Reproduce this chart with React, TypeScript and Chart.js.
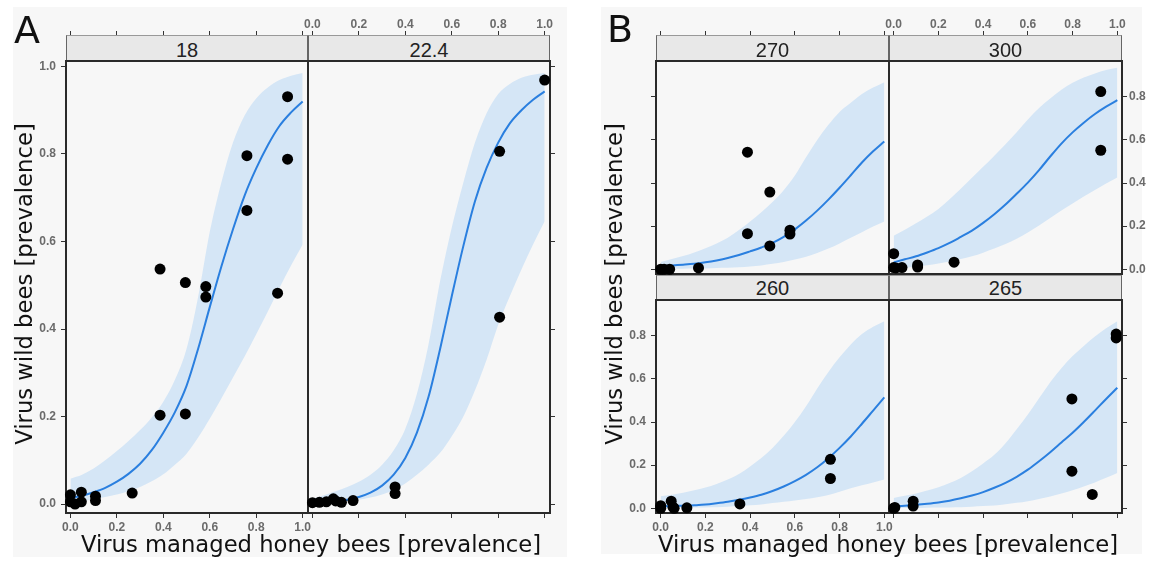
import React, { useEffect, useRef } from "react";
import { Chart, registerables } from "chart.js";

Chart.register(...registerables);

// ---------- data ----------
const GRID = [0, 0.05, 0.1, 0.15, 0.2, 0.25, 0.3, 0.35, 0.4, 0.45, 0.5, 0.55, 0.6, 0.65, 0.7, 0.75, 0.8, 0.85, 0.9, 0.95, 1.0];

const X_TITLE = "Virus managed honey bees [prevalence]";
const Y_TITLE = "Virus wild bees [prevalence]";

// Panel A, facet "18"
const pts18X = [0, 0, 0.02, 0.047, 0.047, 0.108, 0.108, 0.266, 0.386, 0.386, 0.495, 0.495, 0.583, 0.583, 0.76, 0.76, 0.892, 0.935, 0.935];
const pts18Y = [0.021, 0.005, 0.0, 0.027, 0.005, 0.018, 0.008, 0.025, 0.537, 0.203, 0.506, 0.206, 0.497, 0.473, 0.796, 0.671, 0.482, 0.931, 0.788];
const fit18 = [0.014, 0.019, 0.027, 0.037, 0.051, 0.069, 0.092, 0.123, 0.163, 0.21, 0.27, 0.355, 0.45, 0.543, 0.628, 0.705, 0.767, 0.82, 0.864, 0.895, 0.92];
const upper18 = [0.058, 0.067, 0.081, 0.1, 0.121, 0.144, 0.169, 0.198, 0.234, 0.284, 0.355, 0.474, 0.622, 0.735, 0.826, 0.888, 0.927, 0.952, 0.969, 0.979, 0.985];
const lower18 = [0.002, 0.006, 0.011, 0.016, 0.022, 0.029, 0.039, 0.052, 0.068, 0.09, 0.115, 0.152, 0.195, 0.241, 0.289, 0.337, 0.388, 0.44, 0.494, 0.545, 0.593];

// Panel A, facet "22.4"
const pts22X = [0, 0.03, 0.06, 0.09, 0.1, 0.125, 0.175, 0.356, 0.356, 0.806, 0.806, 1.0];
const pts22Y = [0.003, 0.004, 0.005, 0.012, 0.007, 0.004, 0.008, 0.039, 0.024, 0.806, 0.427, 0.969];
const fit22 = [0.003, 0.004, 0.006, 0.01, 0.016, 0.026, 0.042, 0.067, 0.105, 0.163, 0.245, 0.355, 0.475, 0.59, 0.692, 0.768, 0.826, 0.87, 0.9, 0.924, 0.943];
const upper22 = [0.012, 0.02, 0.029, 0.039, 0.051, 0.067, 0.09, 0.123, 0.172, 0.252, 0.365, 0.51, 0.632, 0.735, 0.826, 0.893, 0.937, 0.96, 0.974, 0.981, 0.985];
const lower22 = [0.001, 0.002, 0.004, 0.007, 0.01, 0.015, 0.022, 0.032, 0.047, 0.067, 0.09, 0.117, 0.155, 0.2, 0.26, 0.33, 0.41, 0.475, 0.536, 0.593, 0.646];

// Panel B, facet "270"
const pts270X = [0, 0.015, 0.04, 0.169, 0.388, 0.388, 0.488, 0.488, 0.578, 0.578];
const pts270Y = [0, 0, 0, 0.006, 0.543, 0.165, 0.358, 0.108, 0.181, 0.163];
const fit270 = [0.016, 0.018, 0.021, 0.025, 0.032, 0.041, 0.052, 0.066, 0.083, 0.101, 0.122, 0.15, 0.185, 0.226, 0.272, 0.323, 0.378, 0.436, 0.495, 0.547, 0.593];
const upper270 = [0.034, 0.047, 0.061, 0.078, 0.098, 0.12, 0.146, 0.182, 0.222, 0.265, 0.312, 0.367, 0.435, 0.52, 0.6, 0.67, 0.73, 0.772, 0.813, 0.843, 0.868];
const lower270 = [0, 0.001, 0.002, 0.003, 0.004, 0.006, 0.007, 0.009, 0.013, 0.018, 0.025, 0.034, 0.045, 0.058, 0.075, 0.096, 0.12, 0.146, 0.172, 0.198, 0.222];

// Panel B, facet "300"
const pts300X = [0, 0, 0.01, 0.037, 0.107, 0.107, 0.27, 0.926, 0.926];
const pts300Y = [0.072, 0.008, 0.006, 0.008, 0.02, 0.01, 0.033, 0.824, 0.552];
const fit300 = [0.032, 0.046, 0.06, 0.078, 0.098, 0.122, 0.15, 0.179, 0.215, 0.255, 0.3, 0.35, 0.402, 0.46, 0.523, 0.583, 0.635, 0.68, 0.72, 0.754, 0.784];
const upper300 = [0.156, 0.183, 0.213, 0.245, 0.28, 0.325, 0.373, 0.424, 0.475, 0.527, 0.58, 0.636, 0.695, 0.748, 0.792, 0.833, 0.865, 0.889, 0.908, 0.924, 0.935];
const lower300 = [0.002, 0.007, 0.012, 0.019, 0.027, 0.036, 0.047, 0.06, 0.077, 0.096, 0.117, 0.142, 0.171, 0.203, 0.238, 0.272, 0.305, 0.337, 0.368, 0.398, 0.426];

// Panel B, facet "260"
const pts260X = [0, 0, 0.047, 0.055, 0.06, 0.117, 0.354, 0.759, 0.759];
const pts260Y = [0.012, 0, 0.033, 0.005, 0, 0.002, 0.02, 0.227, 0.138];
const fit260 = [0.009, 0.01, 0.012, 0.014, 0.017, 0.023, 0.03, 0.039, 0.05, 0.063, 0.08, 0.101, 0.126, 0.155, 0.19, 0.232, 0.28, 0.333, 0.392, 0.453, 0.514];
const upper260 = [0.056, 0.063, 0.072, 0.083, 0.096, 0.113, 0.133, 0.159, 0.194, 0.233, 0.28, 0.336, 0.4, 0.473, 0.556, 0.632, 0.7, 0.76, 0.808, 0.842, 0.868];
const lower260 = [0, 0.001, 0.002, 0.003, 0.004, 0.005, 0.007, 0.01, 0.014, 0.018, 0.024, 0.03, 0.036, 0.043, 0.051, 0.062, 0.077, 0.093, 0.107, 0.12, 0.133];

// Panel B, facet "265"
const pts265X = [0, 0.005, 0.087, 0.087, 0.797, 0.797, 0.888, 0.995, 0.995];
const pts265Y = [0, 0.004, 0.033, 0.01, 0.507, 0.172, 0.064, 0.808, 0.79];
const fit265 = [0.009, 0.012, 0.016, 0.021, 0.027, 0.035, 0.046, 0.059, 0.075, 0.095, 0.118, 0.146, 0.179, 0.218, 0.26, 0.305, 0.35, 0.4, 0.453, 0.507, 0.559];
const upper265 = [0.048, 0.058, 0.069, 0.082, 0.098, 0.117, 0.14, 0.172, 0.208, 0.248, 0.302, 0.367, 0.435, 0.51, 0.585, 0.65, 0.706, 0.753, 0.797, 0.835, 0.868];
const lower265 = [0, 0.001, 0.001, 0.002, 0.003, 0.004, 0.005, 0.007, 0.01, 0.013, 0.019, 0.025, 0.033, 0.043, 0.055, 0.069, 0.084, 0.101, 0.12, 0.141, 0.164];

// ---------- styling / layout ----------
const M = 60; // fixed axis box size around each plot area
const BG = "#f7f7f7";
const POINT = "#000000";
const LINE = "#2a7fdf";
const BAND = "#d5e6f6";
const TICK_FONT = { family: '"Liberation Sans", Arial, sans-serif', size: 12, weight: "bold" as const, lineHeight: 1 };
const TITLE_FONT = '"DejaVu Sans", Verdana, sans-serif';

const A_X: [number, number] = [-0.019, 1.023];
const A_Y: [number, number] = [-0.0205, 1.0125];
const B_X: [number, number] = [-0.021, 1.021];
const B_Y: [number, number] = [-0.022, 0.966];

type Mode = 0 | 1 | 2; // 0 none, 1 ticks only, 2 ticks + labels

interface FacetSpec {
  id: string;
  label: string;
  left: number;
  top: number;
  w: number;
  h: number;
  xr: [number, number];
  yr: [number, number];
  px: number[];
  py: number[];
  fit: number[];
  lo: number[];
  hi: number[];
  t: Mode;
  b: Mode;
  l: Mode;
  r: Mode;
  stripTop: number;
  stripH: number;
  stripShift: number;
  topTickLen: number;
}

const FACETS: FacetSpec[] = [
  { id: "f18", label: "18", left: 66, top: 61, w: 242, h: 452, xr: A_X, yr: A_Y, px: pts18X, py: pts18Y, fit: fit18, lo: lower18, hi: upper18, t: 1, b: 2, l: 2, r: 0, stripTop: 35, stripH: 25, stripShift: 2, topTickLen: 30 },
  { id: "f22", label: "22.4", left: 308, top: 61, w: 242, h: 452, xr: A_X, yr: A_Y, px: pts22X, py: pts22Y, fit: fit22, lo: lower22, hi: upper22, t: 2, b: 1, l: 0, r: 1, stripTop: 35, stripH: 25, stripShift: 2, topTickLen: 30 },
  { id: "f270", label: "270", left: 656, top: 61, w: 233, h: 213, xr: B_X, yr: B_Y, px: pts270X, py: pts270Y, fit: fit270, lo: lower270, hi: upper270, t: 1, b: 0, l: 1, r: 0, stripTop: 35, stripH: 25, stripShift: 2, topTickLen: 30 },
  { id: "f300", label: "300", left: 889, top: 61, w: 233, h: 213, xr: B_X, yr: B_Y, px: pts300X, py: pts300Y, fit: fit300, lo: lower300, hi: upper300, t: 2, b: 0, l: 0, r: 2, stripTop: 35, stripH: 25, stripShift: 2, topTickLen: 30 },
  { id: "f260", label: "260", left: 656, top: 300, w: 233, h: 213, xr: B_X, yr: B_Y, px: pts260X, py: pts260Y, fit: fit260, lo: lower260, hi: upper260, t: 0, b: 2, l: 2, r: 0, stripTop: 275, stripH: 24, stripShift: 0, topTickLen: 5 },
  { id: "f265", label: "265", left: 889, top: 300, w: 233, h: 213, xr: B_X, yr: B_Y, px: pts265X, py: pts265Y, fit: fit265, lo: lower265, hi: upper265, t: 0, b: 1, l: 0, r: 1, stripTop: 275, stripH: 24, stripShift: 0, topTickLen: 5 },
];

const fmt = (v: number | string) => {
  const n = Number(v);
  return Math.abs(n) < 1e-9 ? "0.0" : n.toFixed(1);
};

function axis(position: string, range: [number, number], mode: Mode, tickLen: number, pad: number) {
  const horizontal = position === "top" || position === "bottom";
  return {
    type: "linear",
    axis: horizontal ? "x" : "y",
    position,
    min: range[0],
    max: range[1],
    afterFit: (s: any) => {
      if (horizontal) s.height = M;
      else s.width = M;
    },
    ticks: {
      stepSize: 0.2,
      includeBounds: false,
      autoSkip: false,
      maxRotation: 0,
      minRotation: 0,
      padding: pad,
      color: mode === 2 ? "#6b6b6b" : "rgba(0,0,0,0)",
      font: TICK_FONT,
      callback: fmt,
    },
    grid: {
      display: mode > 0,
      drawOnChartArea: false,
      drawTicks: true,
      tickLength: tickLen,
      tickWidth: 1,
      tickColor: "#333333",
      color: "#333333",
    },
    border: { display: true, color: "#2a2a2a", width: 2 },
  };
}

const SMOOTH = { cubicInterpolationMode: "monotone" };

function Facet({ spec }: { spec: FacetSpec }) {
  const ref = useRef<HTMLCanvasElement>(null);
  useEffect(() => {
    const canvas = ref.current;
    if (!canvas) return;
    const pts = spec.px.map((x, i) => ({ x, y: spec.py[i] }));
    const fitData = GRID.map((x, i) => ({ x, y: spec.fit[i] }));
    const loData = GRID.map((x, i) => ({ x, y: spec.lo[i] }));
    const hiData = GRID.map((x, i) => ({ x, y: spec.hi[i] }));
    const config: any = {
      type: "scatter",
      data: {
        datasets: [
          {
            type: "scatter",
            data: pts,
            pointRadius: 5.5,
            pointHoverRadius: 5.5,
            backgroundColor: POINT,
            borderColor: POINT,
            borderWidth: 0,
            clip: false,
            order: 0,
            xAxisID: "x",
            yAxisID: "y",
          },
          {
            type: "line",
            data: fitData,
            borderColor: LINE,
            borderWidth: 2,
            pointRadius: 0,
            fill: false,
            ...SMOOTH,
            order: 1,
            xAxisID: "x",
            yAxisID: "y",
          },
          {
            type: "line",
            data: loData,
            borderWidth: 0,
            borderColor: "rgba(0,0,0,0)",
            pointRadius: 0,
            fill: false,
            ...SMOOTH,
            order: 2,
            xAxisID: "x",
            yAxisID: "y",
          },
          {
            type: "line",
            data: hiData,
            borderWidth: 0,
            borderColor: "rgba(0,0,0,0)",
            backgroundColor: BAND,
            pointRadius: 0,
            fill: 2,
            ...SMOOTH,
            order: 3,
            xAxisID: "x",
            yAxisID: "y",
          },
        ],
      },
      options: {
        animation: false,
        responsive: false,
        devicePixelRatio: 1,
        events: [],
        layout: { padding: 0 },
        plugins: { legend: { display: false }, tooltip: { enabled: false }, title: { display: false } },
        scales: {
          x: axis("bottom", spec.xr, spec.b, 5, 4),
          x2: axis("top", spec.xr, spec.t, spec.topTickLen, 0),
          y: axis("left", spec.yr, spec.l, 5, 5),
          y2: axis("right", spec.yr, spec.r, 5, 2),
        },
      },
    };
    const chart = new Chart(canvas, config);
    return () => chart.destroy();
  }, [spec]);
  const cw = spec.w + 2 * M;
  const ch = spec.h + 2 * M;
  return (
    <canvas
      ref={ref}
      width={cw}
      height={ch}
      style={{ position: "absolute", left: spec.left - M, top: spec.top - M, width: cw, height: ch, zIndex: 1 }}
    />
  );
}

function Strip({ spec }: { spec: FacetSpec }) {
  const isTop = spec.stripTop < spec.top - 20;
  return (
    <div
      style={{
        position: "absolute",
        left: spec.left,
        top: spec.stripTop,
        width: spec.w,
        height: spec.stripH,
        boxSizing: "border-box",
        background: "#e8e8e8",
        borderLeft: "1px solid #666",
        borderRight: "1px solid #666",
        borderTop: isTop ? "1px solid #999" : "none",
        zIndex: 2,
        font: '20px "Liberation Sans", Arial, sans-serif',
        color: "#222",
        textAlign: "center",
        lineHeight: `${spec.stripH + 2 * spec.stripShift}px`,
        overflow: "hidden",
        whiteSpace: "nowrap",
      }}
    >
      {spec.label}
    </div>
  );
}

const xTitleStyle = (centerX: number): React.CSSProperties => ({
  position: "absolute",
  left: centerX - 300,
  top: 529,
  width: 600,
  height: 30,
  lineHeight: "30px",
  textAlign: "center",
  fontFamily: TITLE_FONT,
  fontSize: 22.7,
  color: "#111",
  whiteSpace: "nowrap",
  zIndex: 3,
});

const yTitleStyle = (centerX: number, centerY: number): React.CSSProperties => ({
  position: "absolute",
  left: centerX - 200,
  top: centerY - 15,
  width: 400,
  height: 30,
  lineHeight: "30px",
  textAlign: "center",
  fontFamily: TITLE_FONT,
  fontSize: 22.7,
  color: "#111",
  whiteSpace: "nowrap",
  transform: "rotate(-90deg)",
  zIndex: 3,
});

const panelLetter = (left: number, top: number): React.CSSProperties => ({
  position: "absolute",
  left,
  top,
  fontFamily: TITLE_FONT,
  fontSize: 38,
  lineHeight: "40px",
  color: "#111",
  zIndex: 3,
});

export default function App() {
  return (
    <div
      style={{
        position: "absolute",
        left: 0,
        top: 0,
        width: 1151,
        height: 562,
        overflow: "hidden",
        background: "#ffffff",
      }}
    >
      <div style={{ position: "absolute", left: 13, top: 7, width: 554, height: 550, background: BG }} />
      <div style={{ position: "absolute", left: 601, top: 7, width: 541, height: 547, background: BG }} />
      {FACETS.map((f) => (
        <Facet key={f.id} spec={f} />
      ))}
      {FACETS.map((f) => (
        <Strip key={"s" + f.id} spec={f} />
      ))}
      <div style={panelLetter(14, 10)}>A</div>
      <div style={panelLetter(607, 9)}>B</div>
      <div style={xTitleStyle(311)}>{X_TITLE}</div>
      <div style={xTitleStyle(888)}>{X_TITLE}</div>
      <div style={yTitleStyle(24, 284)}>{Y_TITLE}</div>
      <div style={yTitleStyle(613.5, 284)}>{Y_TITLE}</div>
    </div>
  );
}
